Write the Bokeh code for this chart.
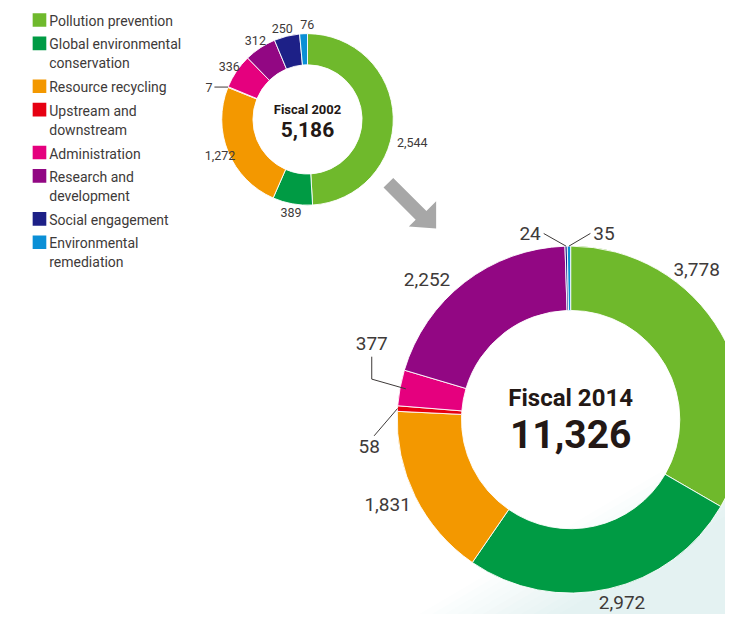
import math
from bokeh.plotting import figure
from bokeh.models import Range1d
from bokeh.core.properties import value
from bokeh.embed import file_html
from bokeh.resources import INLINE

# ---------------- data ----------------
categories = ["Pollution prevention", "Global environmental\nconservation", "Resource recycling",
              "Upstream and\ndownstream", "Administration", "Research and\ndevelopment",
              "Social engagement", "Environmental\nremediation"]
colors = ["#6fb92c", "#009b44", "#f39800", "#e60012", "#e5007e", "#920783", "#1d2087", "#0a8fd6"]
values_2002 = [2544, 389, 1272, 7, 336, 312, 250, 76]
values_2014 = [3778, 2972, 1831, 58, 377, 2252, 24, 35]
year_titles = ["Fiscal 2002", "Fiscal 2014"]
year_totals = ["5,186", "11,326"]

# ---------------- layout ----------------
W, H = 725, 614
S = H / 630.0          # scale the 741x630 design into the 725x614 figure
FONT = "Roboto"
TXT = "#3e3a39"
DARK = "#231815"


def pg(x, y):
    """design pixel (top-left origin) -> plot coords (y up)"""
    return x * S, H - y * S


p = figure(width=W, height=H, x_range=Range1d(0, W), y_range=Range1d(0, H),
           output_backend="svg", toolbar_location=None, min_border=0,
           x_axis_type=None, y_axis_type=None, outline_line_color=None,
           background_fill_color="white", border_fill_color="white")
p.grid.visible = False

# soft teal background at bottom right
n_bands = 12
for k in range(n_bands):
    c = 1500 + k * 13
    t = (k + 1) / n_bands
    r1, g1, b1 = 0xe4, 0xf2, 0xf2
    col = "#%02x%02x%02x" % (round(255 + (r1 - 255) * t), round(255 + (g1 - 255) * t), round(255 + (b1 - 255) * t))
    xb = c - 1.7 * 640
    yr = (c - 760) / 1.7
    pts = [pg(xb, 640), pg(760, 640), pg(760, yr)]
    p.patch([q[0] for q in pts], [q[1] for q in pts], fill_color=col, line_color=None)

# arrow
arrow_pts = [pg(393, 192), pg(403, 182), pg(437, 216), pg(447, 206), pg(447, 234), pg(419, 232), pg(426, 225)]
p.patch([q[0] for q in arrow_pts], [q[1] for q in arrow_pts], fill_color="#a7a7a7", line_color=None)


def donut(vals, center_page, R, r, lab_r, lab_font, nudges, leaders, title, total_txt, tsize, vsize, toff, voff):
    cx, cy = pg(*center_page)
    R, r, lab_r = R * S, r * S, lab_r * S
    total = sum(vals)
    cum = 0
    starts, ends, mids = [], [], []
    for v in vals:
        s = cum / total
        cum += v
        e = cum / total
        starts.append(math.pi / 2 - 2 * math.pi * s)
        ends.append(math.pi / 2 - 2 * math.pi * e)
        mids.append((s + e) / 2 * 360.0)
    p.annular_wedge(x=cx, y=cy, inner_radius=r, outer_radius=R, start_angle=starts, end_angle=ends,
                    direction="clock", fill_color=colors, line_color="white", line_width=0.9)
    for i, v in enumerate(vals):
        txt = f"{v:,}"
        if i in leaders:
            rs, offs, loff, align = leaders[i]
            rs *= S
            th = math.radians(mids[i])
            sx = cx + rs * math.sin(th)
            sy = cy + rs * math.cos(th)
            xs, ys = [sx], [sy]
            for dx, dy in offs:
                xs.append(sx + dx * S)
                ys.append(sy - dy * S)
            p.line(xs, ys, line_color=TXT, line_width=1)
            p.text(x=[xs[-1] + loff[0] * S], y=[ys[-1] - loff[1] * S], text=[txt], text_font=value(FONT),
                   text_font_size=lab_font, text_color=TXT, text_align=align, text_baseline="middle")
        else:
            dth, rr = nudges.get(i, (0, lab_r / S))
            rr *= S
            th = math.radians(mids[i] + dth)
            p.text(x=[cx + rr * math.sin(th)], y=[cy + rr * math.cos(th)], text=[txt],
                   text_font=value(FONT), text_font_size=lab_font, text_color=TXT,
                   text_align="center", text_baseline="middle")
    p.text(x=[cx], y=[cy - toff * S], text=[title], text_font=value(FONT), text_font_style="bold",
           text_font_size=tsize, text_color=DARK, text_align="center", text_baseline="middle")
    p.text(x=[cx], y=[cy - voff * S], text=[total_txt], text_font=value(FONT), text_font_style="bold",
           text_font_size=vsize, text_color=DARK, text_align="center", text_baseline="middle")


# small donut (fiscal 2002)
donut(values_2002, (315, 122), 88, 56, 97, "12.5px",
      nudges={0: (14, 110), 7: (2.5, 97), 6: (-1.5, 97)},
      leaders={3: (88, [(-14, 0)], (-2, 0), "right")},
      title=year_titles[0], total_txt=year_totals[0], tsize="13px", vsize="21px", toff=-10, voff=10)

# big donut (fiscal 2014)
donut(values_2014, (585, 430), 178, 112, 203, "19px",
      nudges={0: (-20, 201), 1: (-3, 195), 2: (1.5, 207), 5: (-8, 206)},
      leaders={6: (178, [(-23, -13)], (-3, 0), "right"),
               7: (178, [(22, -13)], (3, 0), "left"),
               3: (178, [(-24, 28)], (-5, 11), "center"),
               4: (172, [(-35, -10), (-35, -33)], (0, -14), "center")},
      title=year_titles[1], total_txt=year_totals[1], tsize="24px", vsize="39px", toff=-22, voff=15)

# legend
y = 20
for name, col in zip(categories, colors):
    lines = name.split("\n")
    sx, sy = pg(40, y)
    p.rect(x=[sx], y=[sy], width=14 * S, height=14 * S, fill_color=col, line_color=None)
    for j, ln in enumerate(lines):
        tx, ty = pg(50, y + 1 + 19.5 * j)
        p.text(x=[tx], y=[ty], text=[ln], text_font=value(FONT), text_font_size="14px",
               text_color=TXT, text_align="left", text_baseline="middle")
    y += 24 if len(lines) == 1 else 44

open("out.html", "w").write(file_html(p, INLINE))
